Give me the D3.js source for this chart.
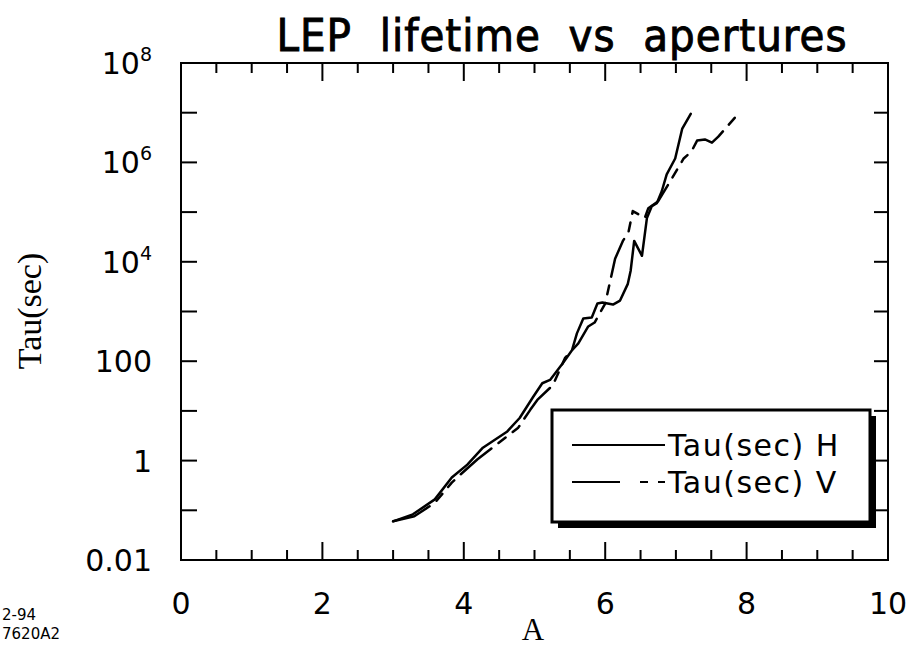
<!DOCTYPE html>
<html>
<head>
<meta charset="utf-8">
<script src="https://cdn.jsdelivr.net/npm/d3@7"></script>
<style>
  html, body { margin: 0; padding: 0; background: #fff; }
  svg { display: block; }
</style>
</head>
<body>
<script>
// ---- data ----
const hA   = [3.00, 3.28, 3.59, 3.83, 4.05, 4.27, 4.61, 4.79, 4.98, 5.11, 5.22, 5.40, 5.53, 5.60, 5.69, 5.81, 5.89, 5.96, 6.11, 6.21, 6.32, 6.36, 6.41, 6.52, 6.59, 6.66, 6.73, 6.80, 6.87, 6.99, 7.09, 7.21];
const hTau = [0.060, 0.083, 0.166, 0.457, 0.83, 1.82, 3.8, 7.2, 19, 36, 42, 91, 166, 363, 724, 759, 1445, 1514, 1380, 1660, 3600, 6600, 26300, 13200, 75900, 1.32e5, 1.51e5, 2.63e5, 5.75e5, 1.2e6, 4.8e6, 9.5e6];
const vA   = [3.00, 3.30, 3.59, 3.83, 3.95, 4.19, 4.77, 4.94, 5.04, 5.26, 5.43, 5.62, 5.76, 5.85, 6.00, 6.14, 6.25, 6.33, 6.39, 6.56, 6.61, 6.75, 6.92, 7.11, 7.22, 7.30, 7.41, 7.51, 7.60, 7.87];
const vTau = [0.060, 0.076, 0.141, 0.36, 0.52, 1.05, 4.6, 10.5, 16.6, 33, 115, 229, 500, 600, 1445, 11500, 26300, 39800, 1.05e5, 7.6e4, 1.2e5, 1.66e5, 4.2e5, 1.2e6, 1.66e6, 2.75e6, 2.9e6, 2.5e6, 3.3e6, 9.1e6];
const xTickLabels = [0, 2, 4, 6, 8, 10];
const yTickLabels = [
  {v: 1e8, base: "10", sup: "8"},
  {v: 1e6, base: "10", sup: "6"},
  {v: 1e4, base: "10", sup: "4"},
  {v: 100, base: "100", sup: ""},
  {v: 1, base: "1", sup: ""},
  {v: 0.01, base: "0.01", sup: ""}
];
const legendLabels = ["Tau(sec) H", "Tau(sec) V"];
const titleText = "LEP  lifetime  vs  apertures";

// ---- layout ----
const W = 913, H = 647;
const L = 181, R = 888, T = 63, B = 560;
const svg = d3.select("body").append("svg").attr("width", W).attr("height", H);

const x = d3.scaleLinear().domain([0, 10]).range([L, R]);
const y = d3.scaleLog().domain([0.01, 1e8]).range([B, T]);

const sans = "'DejaVu Sans', 'Liberation Sans', Arial, sans-serif";
const serif = "'Liberation Serif', 'DejaVu Serif', 'Times New Roman', serif";

// title
svg.append("text")
  .attr("x", 562).attr("y", 51)
  .attr("text-anchor", "middle")
  .attr("font-family", "'Liberation Sans Narrow', 'DejaVu Sans Condensed', 'Roboto Condensed', sans-serif")
  .attr("font-size", 45)
  .attr("font-weight", "normal")
  .attr("letter-spacing", 1)
  .attr("stroke", "#000").attr("stroke-width", 0.9)
  .attr("xml:space", "preserve")
  .style("white-space", "pre")
  .text(titleText);

// frame
svg.append("rect")
  .attr("x", L).attr("y", T).attr("width", R - L).attr("height", B - T)
  .attr("fill", "none").attr("stroke", "#000").attr("stroke-width", 2);

// x ticks (every 0.5), bottom and top, inward
const xTicks = d3.range(0, 10.01, 0.5).filter(d => d > 0 && d < 10);
const g = svg.append("g").attr("stroke", "#000").attr("stroke-width", 2);
xTicks.forEach(d => {
  const major = Math.abs(d % 2) < 1e-9;
  const len = major ? 18 : 10;
  g.append("line").attr("x1", x(d)).attr("x2", x(d)).attr("y1", B).attr("y2", B - len);
  g.append("line").attr("x1", x(d)).attr("x2", x(d)).attr("y1", T).attr("y2", T + len);
});
// y ticks (every decade), left and right, inward
const yTicks = d3.range(-1, 8).map(e => Math.pow(10, e));
yTicks.forEach(d => {
  g.append("line").attr("x1", L).attr("x2", L + 16).attr("y1", y(d)).attr("y2", y(d));
  g.append("line").attr("x1", R).attr("x2", R - 14).attr("y1", y(d)).attr("y2", y(d));
});

// x tick labels
svg.append("g").selectAll("text").data(xTickLabels).join("text")
  .attr("x", d => x(d)).attr("y", 614)
  .attr("text-anchor", "middle")
  .attr("font-family", sans).attr("font-size", 30)
  .text(d => d);

// y tick labels
const yl = svg.append("g").selectAll("text").data(yTickLabels).join("text")
  .attr("x", 152).attr("y", d => y(d.v) + 11)
  .attr("text-anchor", "end")
  .attr("font-family", sans).attr("font-size", 30);
yl.append("tspan").text(d => d.base);
yl.filter(d => d.sup).append("tspan")
  .attr("font-size", 19).attr("dy", -13).text(d => d.sup);

// axis titles
svg.append("text")
  .attr("transform", "translate(41,311) rotate(-90)")
  .attr("text-anchor", "middle")
  .attr("font-family", serif).attr("font-size", 34)
  .text("Tau(sec)");
svg.append("text")
  .attr("x", 533).attr("y", 640)
  .attr("text-anchor", "middle")
  .attr("font-family", serif).attr("font-size", 31)
  .text("A");

// stamp
svg.append("text").attr("x", 2).attr("y", 620)
  .attr("font-family", sans).attr("font-size", 15).text("2-94");
svg.append("text").attr("x", 2).attr("y", 639)
  .attr("font-family", sans).attr("font-size", 15).text("7620A2");

// curves
const line = d3.line().x(d => x(d[0])).y(d => y(d[1])).curve(d3.curveLinear);
const hData = hA.map((a, i) => [a, hTau[i]]);
const vData = vA.map((a, i) => [a, vTau[i]]);
const dashV = "40,9,9,9,9,9";

svg.append("path").datum(vData)
  .attr("d", line).attr("fill", "none").attr("stroke", "#000")
  .attr("stroke-width", 2.5).attr("stroke-dasharray", dashV)
  .attr("stroke-linejoin", "round").attr("stroke-linecap", "round");
svg.append("path").datum(hData)
  .attr("d", line).attr("fill", "none").attr("stroke", "#000")
  .attr("stroke-width", 2.5)
  .attr("stroke-linejoin", "round").attr("stroke-linecap", "round");

// legend
const lx = 552, ly = 410, lw = 318, lh = 112;
svg.append("rect").attr("x", lx + 6).attr("y", ly + 6).attr("width", lw).attr("height", lh)
  .attr("fill", "#000");
svg.append("rect").attr("x", lx).attr("y", ly).attr("width", lw).attr("height", lh)
  .attr("fill", "#fff").attr("stroke", "#000").attr("stroke-width", 3);
svg.append("line").attr("x1", 572).attr("x2", 665).attr("y1", 445).attr("y2", 445)
  .attr("stroke", "#000").attr("stroke-width", 2);
svg.append("line").attr("x1", 572).attr("x2", 665).attr("y1", 482).attr("y2", 482)
  .attr("stroke", "#000").attr("stroke-width", 2).attr("stroke-dasharray", "48,20,8,10,8");
svg.append("g").selectAll("text").data(legendLabels).join("text")
  .attr("x", 668).attr("y", (d, i) => 456 + i * 37)
  .attr("font-family", sans).attr("font-size", 30)
  .attr("letter-spacing", 1.5)
  .text(d => d);
</script>
</body>
</html>
